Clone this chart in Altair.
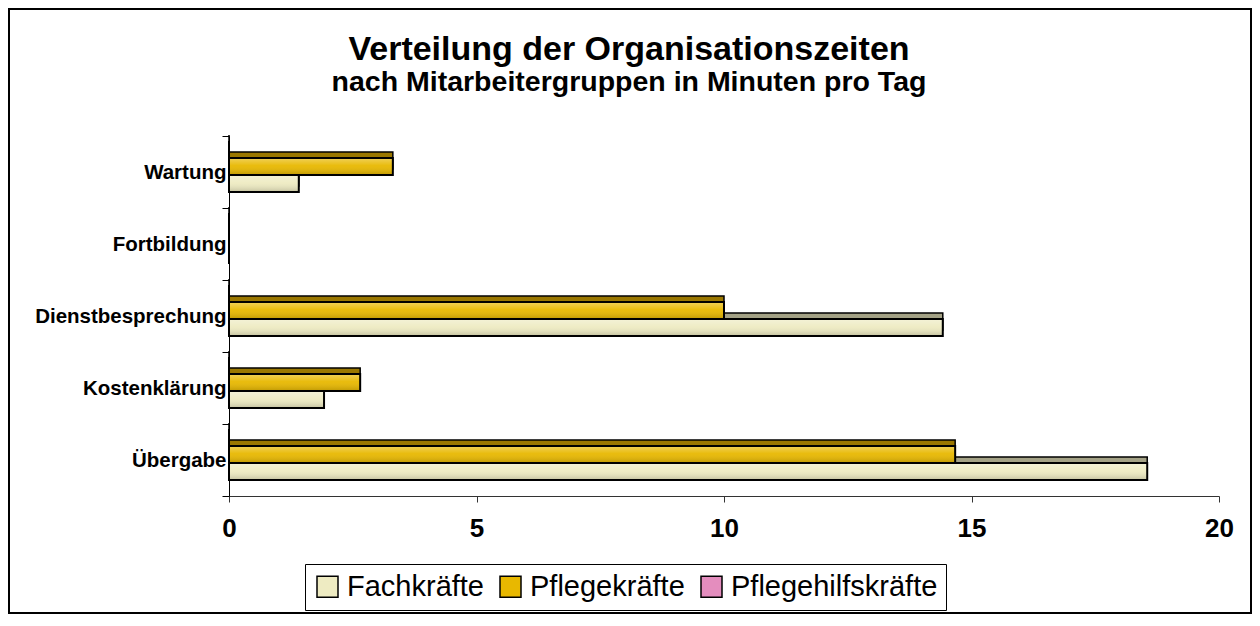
import altair as alt
import pandas as pd

# ---- data ----
categories = ["Wartung", "Fortbildung", "Dienstbesprechung", "Kostenklärung", "Übergabe"]
fachkraefte = [1.41, 0.0, 14.42, 1.92, 18.55]
pflegekraefte = [3.31, 0.0, 10.0, 2.65, 14.67]
pflegehilfskraefte = [0.0, 0.0, 0.0, 0.0, 0.0]
series = ["Fachkräfte", "Pflegekräfte", "Pflegehilfskräfte"]
stack_order = ["Pflegehilfskräfte", "Pflegekräfte", "Fachkräfte"]  # top to bottom inside a group
x_ticks = [0, 5, 10, 15, 20]

title_text = "Verteilung der Organisationszeiten"
subtitle_text = "nach Mitarbeitergruppen in Minuten pro Tag"

rows = []
for name, vals in zip(series, [fachkraefte, pflegekraefte, pflegehilfskraefte]):
    for c, v in zip(categories, vals):
        rows.append({"Kategorie": c, "Gruppe": name, "Minuten": v})
df = pd.DataFrame(rows)

# ---- styles ----
FONT = "Liberation Sans"
front_colors = ["#EEEBC2", "#E8B800", "#E48DBE"]
top_colors = ["#A4A286", "#9A7700", "#A0607F"]

W, H = 990, 360
BAND = 72
DEPTH = 6
PAD = {"left": 221, "top": 128, "right": 33, "bottom": 118}

y_enc = alt.Y("Kategorie:N", sort=categories,
              scale=alt.Scale(paddingInner=0, paddingOuter=0),
              axis=alt.Axis(title=None, tickBand="extent", tickSize=7, tickColor="black",
                            domainColor="black", labelFont=FONT, labelFontSize=20.5,
                            labelFontWeight="bold", labelColor="black", labelPadding=-4,
                            labelLimit=400))


def yoff(shift):
    return alt.YOffset("Gruppe:N", sort=stack_order,
                       scale=alt.Scale(domain=stack_order, range=[shift, BAND + shift],
                                       paddingInner=0, paddingOuter=0.6176, align=0.24))


x_enc = alt.X("Minuten:Q",
              scale=alt.Scale(domain=[0, 20], nice=False),
              axis=alt.Axis(title=None, values=x_ticks, grid=False, tickSize=6,
                            tickColor="#333333", domainColor="#333333", labelFlush=False,
                            labelFont=FONT, labelFontSize=26, labelFontWeight="bold",
                            labelColor="black", labelPadding=13))

base = alt.Chart(df)

top_face = base.mark_bar(stroke="black", strokeWidth=1.5).encode(
    y=y_enc, yOffset=yoff(-DEPTH), x=x_enc,
    fill=alt.Fill("Gruppe:N", scale=alt.Scale(domain=series, range=top_colors), legend=None),
)

front = base.mark_bar().encode(
    y=y_enc, yOffset=yoff(0), x=x_enc,
    color=alt.Color("Gruppe:N", scale=alt.Scale(domain=series, range=front_colors),
                    legend=alt.Legend(title=None, orient="none", legendX=76, legendY=428,
                                      direction="horizontal", strokeColor="black",
                                      fillColor="white", padding=8,
                                      symbolType="square", symbolSize=441,
                                      symbolStrokeColor="black", symbolStrokeWidth=1.5,
                                      symbolOpacity=1,
                                      labelFont=FONT, labelFontSize=29, labelColor="black",
                                      labelLimit=400, columnPadding=12, labelOffset=5)),
)

shade = {
    "gradient": "linear", "x1": 0, "y1": 0, "x2": 0, "y2": 1,
    "stops": [
        {"offset": 0, "color": "rgba(255,255,255,0.35)"},
        {"offset": 0.45, "color": "rgba(255,255,255,0.05)"},
        {"offset": 1, "color": "rgba(0,0,0,0.18)"},
    ],
}
overlay = base.mark_bar(fill=shade, stroke="black", strokeWidth=2).encode(
    y=y_enc, yOffset=yoff(0), x=x_enc,
)

one = pd.DataFrame({"k": [0]})
title = alt.Chart(one).mark_text(text=title_text, font=FONT, fontSize=34, fontWeight="bold",
                                 color="black", align="center", baseline="middle").encode(
    x=alt.value(400), y=alt.value(-86))
subtitle = alt.Chart(one).mark_text(text=subtitle_text, font=FONT, fontSize=28.5, fontWeight="bold",
                                    color="black", align="center", baseline="middle").encode(
    x=alt.value(400), y=alt.value(-54))
frame = alt.Chart(one).mark_rect(fill="transparent", stroke="black", strokeWidth=2).encode(
    x=alt.value(-220), x2=alt.value(W + PAD["right"] - 1),
    y=alt.value(-PAD["top"] + 1), y2=alt.value(H + PAD["bottom"] - 1))

chart = alt.layer(frame, top_face, front, overlay, title, subtitle).resolve_scale(
    fill="independent", yOffset="independent"
).properties(
    width=W, height=H,
    autosize=alt.AutoSizeParams(type="none"),
    padding=PAD,
    background="white",
).configure_view(stroke=None)

chart.save("out.html", embed_options={"renderer": "svg", "actions": False})
